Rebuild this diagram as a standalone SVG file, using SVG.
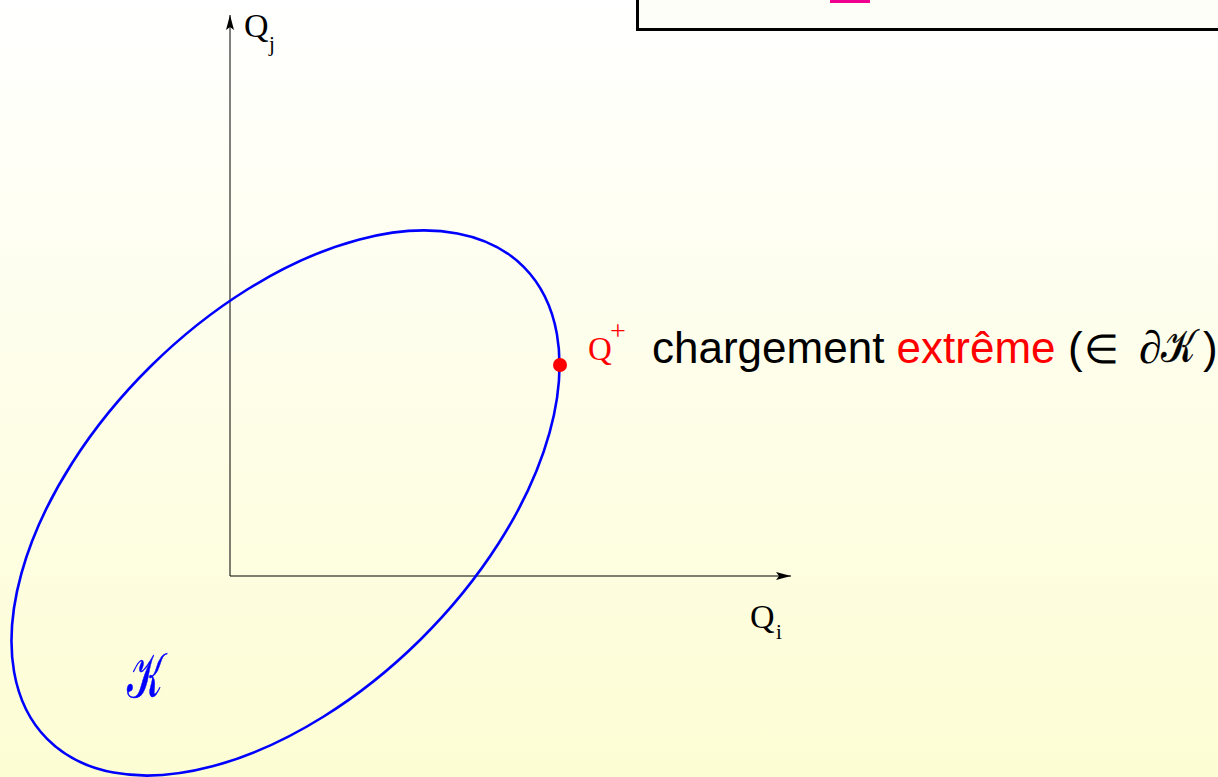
<svg xmlns="http://www.w3.org/2000/svg" width="1218" height="777" viewBox="0 0 1218 777">
<defs>
<linearGradient id="bg" x1="0" y1="0" x2="0" y2="1">
<stop offset="0" stop-color="#ffffff"/>
<stop offset="1" stop-color="#fdfdd4"/>
</linearGradient>
<marker id="arr" markerWidth="16" markerHeight="10" refX="15" refY="5" orient="auto" markerUnits="userSpaceOnUse">
<path d="M0,1 L15,5 L0,9 L3,5 Z" fill="#000"/>
</marker>
<style>
.serif{font-family:"Liberation Serif","Times New Roman",serif}
.sans{font-family:"Liberation Sans",Arial,sans-serif}
.axis{stroke:#000;stroke-width:1;fill:none}
</style>
</defs>
<rect width="1218" height="777" fill="url(#bg)"/>
<g id="topbox">
<rect x="637.5" y="-10" width="700" height="39.5" fill="#fefef9" stroke="#000" stroke-width="3"/>
<rect x="830" y="0" width="40" height="3" fill="#ef0090"/>
</g>
<g id="connectors">
<line class="axis" x1="230" y1="576" x2="230" y2="15" marker-end="url(#arr)"/>
<line class="axis" x1="230" y1="576" x2="791" y2="576" marker-end="url(#arr)"/>
</g>
<g id="axis-labels">
<text class="serif" x="244" y="37" font-size="34">Q</text>
<text class="serif" x="269" y="51" font-size="21">j</text>
<text class="serif" x="750" y="628" font-size="34">Q</text>
<text class="serif" x="776" y="639" font-size="21">i</text>
</g>
<g id="K-set">
<ellipse cx="285.5" cy="503" rx="335.4" ry="192" transform="rotate(-44.7 285.5 503)" fill="none" stroke="#0000ff" stroke-width="2.6"/>
<text class="serif" transform="translate(127 697) scale(0.62 1)" font-size="62" fill="#0000ff" stroke="#0000ff" stroke-width="0.6">𝒦</text>
</g>
<g id="Qplus">
<circle cx="560" cy="365" r="7" fill="#ff0000"/>
<text class="serif" x="588" y="360" font-size="33" fill="#ff0000">Q</text>
<text class="serif" x="610" y="340" font-size="28" fill="#ff0000">+</text>
<text class="sans" x="652" y="363" font-size="44"><tspan>chargement </tspan><tspan fill="#ff0000">extrême</tspan></text>
<text class="sans" x="1068" y="363" font-size="44">(</text>
<text class="serif" x="1084" y="363" font-size="40">∈</text>
<text class="serif" x="1139" y="363" font-size="46" font-style="italic">∂</text>
<text class="serif" transform="translate(1161 362) scale(0.8 1)" font-size="46" stroke="#000" stroke-width="0.4">𝒦</text>
<text class="sans" x="1203" y="363" font-size="44">)</text>
</g>
</svg>
